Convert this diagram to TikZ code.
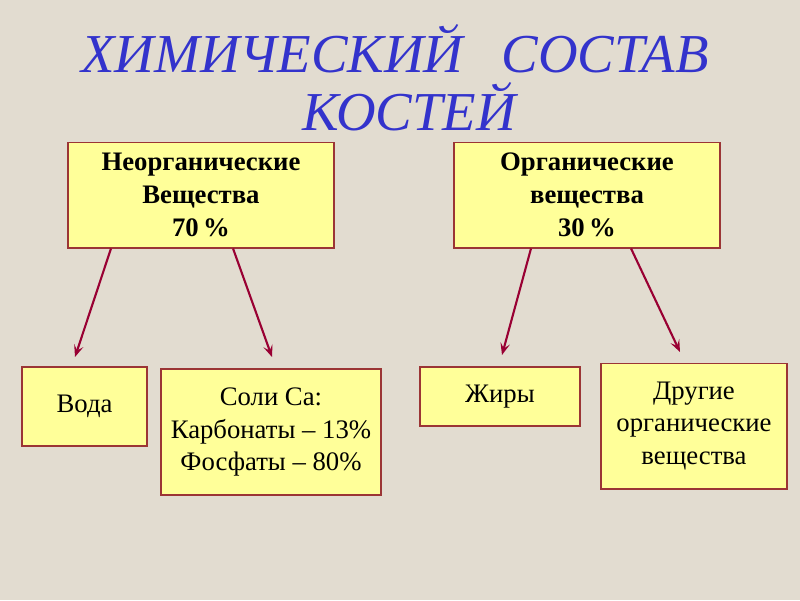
\documentclass[tikz,border=0pt]{standalone}
\usepackage{fontspec}
\setmainfont{Liberation Serif}
\usepackage{tikz}
\usetikzlibrary{arrows.meta,positioning}
\definecolor{slidebg}{HTML}{E2DCD0}
\definecolor{boxfill}{HTML}{FFFF99}
\definecolor{boxedge}{HTML}{9B3535}
\definecolor{arrowred}{HTML}{990033}
\definecolor{titleblue}{HTML}{3333CC}

\begin{document}
\begin{tikzpicture}[x=0.025cm,y=-0.025cm,
  box/.style={draw=boxedge,line width=1.4pt,fill=boxfill,align=center,inner sep=2pt},
  topbox/.style={box,font=\fontsize{19}{23.5}\selectfont\bfseries,minimum width=6.65cm,minimum height=2.625cm},
  subbox/.style={box,font=\fontsize{19}{23}\selectfont},
  link/.style={arrowred,line width=1.5pt,-{Stealth[length=3mm,width=2.4mm,inset=1.3mm]}}]
  \fill[slidebg] (0,0) rectangle (800,600);
  % title
  \node[text=titleblue,font=\fontsize{39}{40}\selectfont\itshape] (title1) at (395,49) {ХИМИЧЕСКИЙ\hspace{0.7em}СОСТАВ};
  \node[text=titleblue,font=\fontsize{39}{40}\selectfont\itshape] (title2) at (409,107) {КОСТЕЙ};
  % upper level
  \node[topbox] (inorg) at (201,195) {Неорганические\\Вещества\\70\,\%};
  \node[topbox] (org) at (587,195) {Органические\\вещества\\30\,\%};
  % lower level
  \node[subbox,minimum width=3.125cm,minimum height=1.975cm] (voda) at (84.5,406.5) {Вода};
  \node[subbox,minimum width=5.5cm,minimum height=3.15cm] (soli) at (271,432) {Соли Са:\\Карбонаты -- 13\%\\Фосфаты -- 80\%};
  \node[subbox,minimum width=4cm,minimum height=1.475cm] (zhiry) at (500,396.5) {Жиры};
  \node[subbox,minimum width=4.65cm,minimum height=3.125cm] (drugie) at (694,426) {Другие\\органические\\вещества};
  % arrow ends
  \coordinate (vodatip) at (75,357);
  \coordinate (solitip) at (272,357);
  \coordinate (zhirytip) at (502,355);
  \coordinate (drugietip) at (680,352);
  \draw[link] ([xshift=1.1cm]inorg.south west) -- (vodatip);
  \draw[link] ([xshift=4.15cm]inorg.south west) -- (solitip);
  \draw[link] ([xshift=1.95cm]org.south west) -- (zhirytip);
  \draw[link] ([xshift=4.45cm]org.south west) -- (drugietip);
\end{tikzpicture}
\end{document}
